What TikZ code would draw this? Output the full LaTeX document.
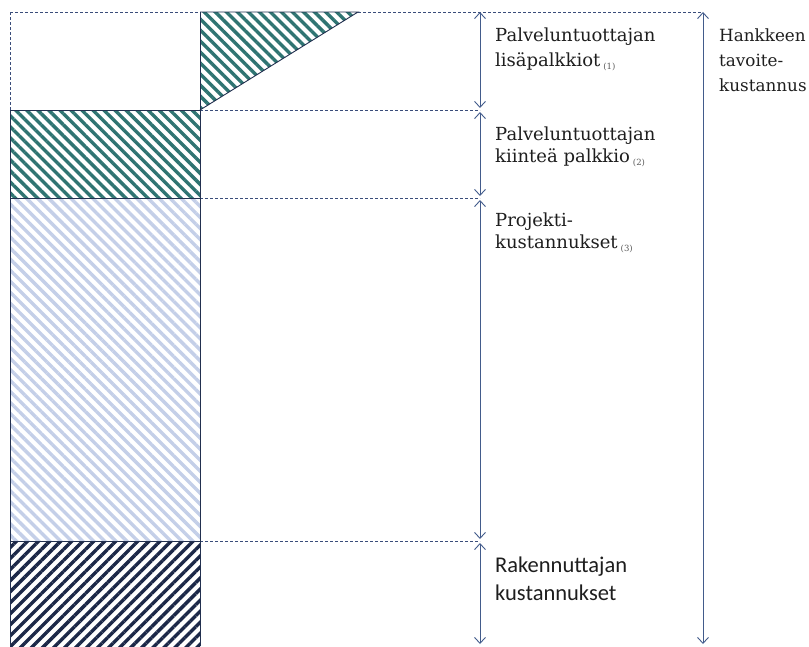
\documentclass[tikz,border=0pt]{standalone}
\usepackage{fontspec}
\setmainfont{DejaVu Serif}
\newfontfamily\labelsans{Carlito}
\usetikzlibrary{patterns.meta,arrows.meta}

\definecolor{frameblue}{HTML}{22304F}
\definecolor{hatchteal}{HTML}{2F7472}
\definecolor{hatchlight}{HTML}{C4CFE8}
\definecolor{hatchnavy}{HTML}{1C2848}
\definecolor{guideblue}{HTML}{3A4D7A}
\definecolor{dimblue}{HTML}{425B8B}
\definecolor{labeltext}{HTML}{1E1E1E}

\tikzset{
  frame/.style={draw=frameblue, line width=0.9pt},
  guide/.style={draw=guideblue, line width=0.8pt, dash pattern=on 3pt off 2pt},
  dimarrow/.style={draw=dimblue, line width=0.9pt,
    arrows={Straight Barb[length=6pt,width=11pt]-Straight Barb[length=6pt,width=11pt]}},
  serifline/.style={anchor=base west, inner sep=0pt, text=labeltext,
    font=\fontsize{18}{20}\selectfont},
  totalline/.style={anchor=base west, inner sep=0pt, text=labeltext,
    font=\fontsize{16.8}{18}\selectfont},
  sansline/.style={anchor=base west, inner sep=0pt, text=labeltext,
    font=\labelsans\fontsize{22.5}{26}\selectfont},
}
\newcommand{\refnum}[1]{\,{\fontsize{8.5}{9}\selectfont\color{black!65}\raisebox{-3pt}{(#1)}}}

\begin{document}
\begin{tikzpicture}[x=1pt,y=-1pt]
\useasboundingbox (0,0) rectangle (809,646);

% key levels of the cost stack
\coordinate (topL) at (10,12);
\coordinate (topM) at (200,12);
\coordinate (topR) at (358,12);
\coordinate (lvlA) at (200,110);
\coordinate (lvlB) at (200,198);
\coordinate (lvlC) at (200,541);

% hatched blocks
\fill[pattern={Lines[angle=-45,distance=7.8pt,line width=3.4pt]}, pattern color=hatchteal]
  (topM) -- (topR) -- (lvlA) -- cycle;
\fill[pattern={Lines[angle=-45,distance=7.8pt,line width=3.4pt]}, pattern color=hatchteal]
  (10,110) rectangle (200,198);
\fill[pattern={Lines[angle=-45,distance=7.8pt,line width=3.4pt]}, pattern color=hatchlight]
  (10,198) rectangle (200,541);
\fill[pattern={Lines[angle=45,distance=7.8pt,line width=3.4pt]}, pattern color=hatchnavy]
  (10,541) rectangle (200,646);

% dashed guide lines
\coordinate (gTopEnd) at (703,12);
\coordinate (gAEnd) at (480,110);
\coordinate (gBEnd) at (480,198);
\coordinate (gCEnd) at (480,541);
\path[guide] (topL) -- (10,110);
\path[guide] (topL) -- (topM);
\path[guide] (topR) -- (gTopEnd);
\path[guide] (lvlA) -- (gAEnd);
\path[guide] (lvlB) -- (gBEnd);
\path[guide] (lvlC) -- (gCEnd);

% block outlines
\path[frame] (topM) -- (topR) -- (lvlA);
\path[frame] (topM) -- (200,646);
\path[frame] (10,646) -- (10,110) -- (lvlA);
\path[frame] (10,198) -- (lvlB);
\path[frame] (10,541) -- (lvlC);

% dimension arrows
\coordinate (d1t) at (480,12);  \coordinate (d1b) at (480,108);
\coordinate (d2t) at (480,112); \coordinate (d2b) at (480,196);
\coordinate (d3t) at (480,200); \coordinate (d3b) at (480,539);
\coordinate (d4t) at (480,543); \coordinate (d4b) at (480,644);
\coordinate (dTt) at (703,12);  \coordinate (dTb) at (703,644);
\path[dimarrow] (d1t) -- (d1b);
\path[dimarrow] (d2t) -- (d2b);
\path[dimarrow] (d3t) -- (d3b);
\path[dimarrow] (d4t) -- (d4b);
\path[dimarrow] (dTt) -- (dTb);

% labels
\node[serifline] (l1a) at (495,41) {Palveluntuottajan};
\node[serifline] (l1b) at (495,66) {lisäpalkkiot\refnum{1}};
\node[serifline] (l2a) at (495,140) {Palveluntuottajan};
\node[serifline] (l2b) at (495,162) {kiinteä palkkio\refnum{2}};
\node[serifline] (l3a) at (495,226) {Projekti-};
\node[serifline] (l3b) at (495,248) {kustannukset\refnum{3}};
\node[sansline] (l4a) at (495,572) {Rakennuttajan};
\node[sansline] (l4b) at (495,600) {kustannukset};
\node[totalline] (t1) at (719,41) {Hankkeen};
\node[totalline] (t2) at (719,66) {tavoite-};
\node[totalline] (t3) at (719,91) {kustannus};
\end{tikzpicture}
\end{document}
